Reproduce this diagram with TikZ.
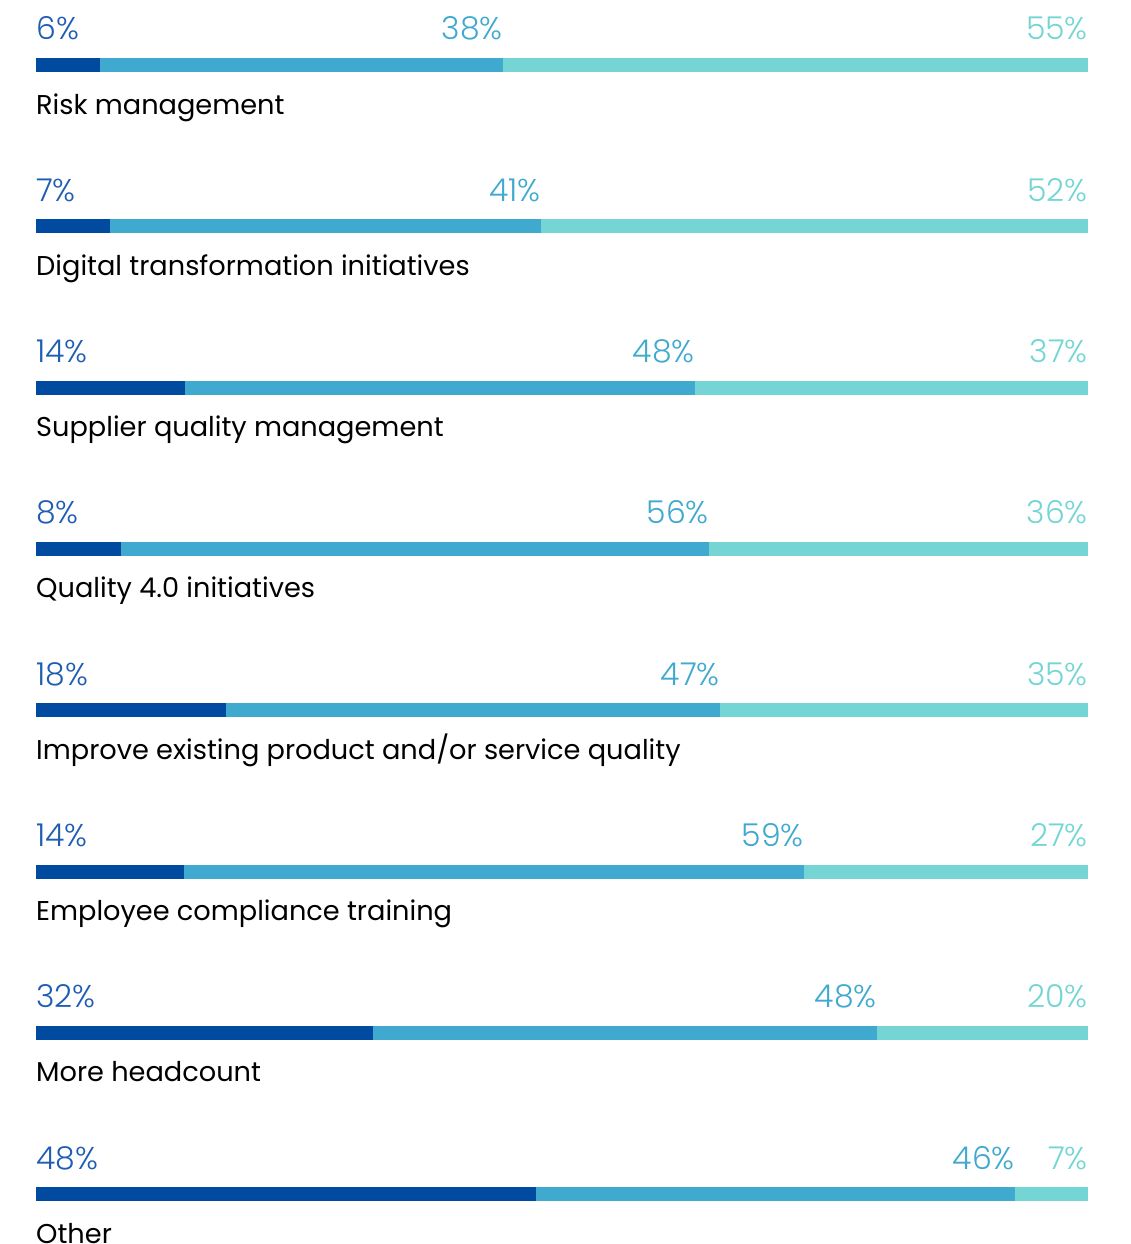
\documentclass[tikz,border=0pt]{standalone}
\usepackage{fontspec}
\setmainfont{Poppins}
\newfontfamily\pctfont{Poppins}[UprightFont=* Light]
\definecolor{darkseg}{HTML}{004BA0}
\definecolor{midseg}{HTML}{3FA9CF}
\definecolor{lightseg}{HTML}{74D5D4}
\definecolor{darktxt}{HTML}{1F5DB2}
\tikzset{
    pct/.style={inner sep=0pt, font=\pctfont\fontsize{31.5}{38}\selectfont},
    catlabel/.style={inner sep=0pt, anchor=base west, text=black, font=\fontsize{27.2}{32}\selectfont}
}
\newcommand{\drawbarrow}[7]{
    \pgfmathsetmacro\rowtop{58+161.3*#1}
    \fill[darkseg] (36,\rowtop) rectangle (#2,\rowtop+14);
    \fill[midseg] (#2,\rowtop) rectangle (#3,\rowtop+14);
    \fill[lightseg] (#3,\rowtop) rectangle (1088,\rowtop+14);
    \node[pct, text=darktxt, anchor=base west] (pa#1) at (36,\rowtop-18) {#4\%};
    \node[pct, text=midseg, anchor=base east] (pb#1) at (#3,\rowtop-18) {#5\%};
    \node[pct, text=lightseg, anchor=base east] (pc#1) at (1088,\rowtop-18) {#6\%};
    \node[catlabel] (lab#1) at (36,\rowtop+56) {#7};
}

\begin{document}
\begin{tikzpicture}[x=1pt,y=-1pt]
\useasboundingbox (0,0) rectangle (1131,1244);
\drawbarrow{0}{100}{503}{6}{38}{55}{Risk management}
\drawbarrow{1}{110}{541}{7}{41}{52}{Digital transformation initiatives}
\drawbarrow{2}{185}{695}{14}{48}{37}{Supplier quality management}
\drawbarrow{3}{121}{709}{8}{56}{36}{Quality 4.0 initiatives}
\drawbarrow{4}{226}{720}{18}{47}{35}{Improve existing product and/or service quality}
\drawbarrow{5}{184}{804}{14}{59}{27}{Employee compliance training}
\drawbarrow{6}{373}{877}{32}{48}{20}{More headcount}
\drawbarrow{7}{536}{1015}{48}{46}{7}{Other}
\end{tikzpicture}
\end{document}
